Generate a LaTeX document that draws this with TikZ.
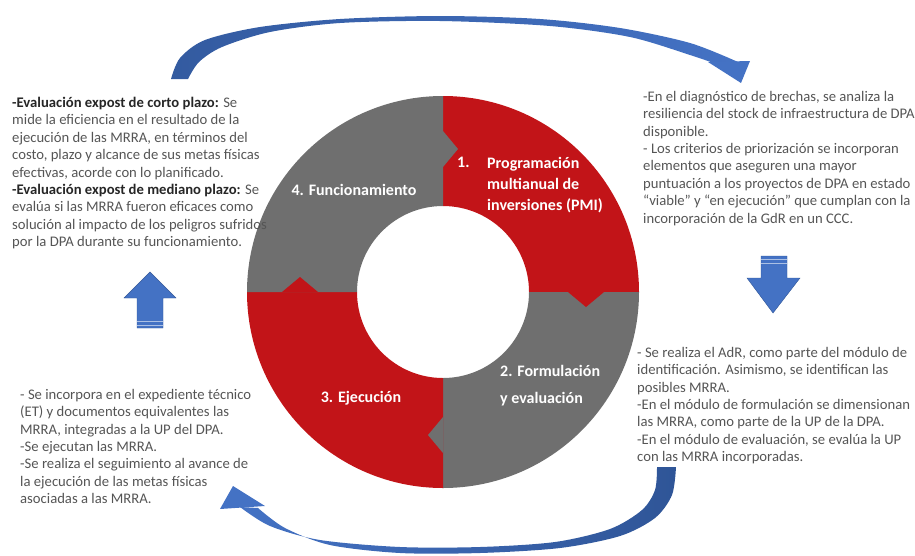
\documentclass[tikz,border=0pt]{standalone}
\usepackage{fontspec}
\setmainfont{Carlito}
\usetikzlibrary{positioning}

\definecolor{ringred}{HTML}{C21418}
\definecolor{ringgray}{HTML}{6F6F6F}
\definecolor{arrowblue}{HTML}{4472C4}
\definecolor{arrowdark}{HTML}{2F5597}
\definecolor{bodytext}{HTML}{555555}
\definecolor{leadtext}{HTML}{262626}
\newcommand{\bodyfont}{\fontsize{14.67}{17.4}\selectfont}
\newcommand{\stagefont}{\fontsize{16}{21}\selectfont\bfseries}
\newcommand{\lead}[1]{\textcolor{leadtext}{\textbf{#1}}}

\begin{document}
\begin{tikzpicture}[x=1pt,y=-1pt,
    textblock/.style={anchor=north west,align=left,inner sep=0pt,text=bodytext,font=\bodyfont},
    stage/.style={text=white,inner sep=0pt,font=\stagefont},
    blockarrow/.style={fill=arrowblue,draw=arrowdark,line width=0.4pt},
    stripe/.style={draw=white!55!arrowblue,line width=0.8pt}]
  \useasboundingbox (0,0) rectangle (915,555);

  % ring of four stages
  \begin{scope}[shift={(443,292)},y=1pt]
    \fill[ringred] (0:86) arc[start angle=0,end angle=90,radius=86]
      -- (90:196) arc[start angle=90,end angle=0,radius=196] -- cycle;
    \fill[ringgray] (-90:86) arc[start angle=-90,end angle=0,radius=86]
      -- (0:196) arc[start angle=0,end angle=-90,radius=196] -- cycle;
    \fill[ringred] (180:86) arc[start angle=180,end angle=270,radius=86]
      -- (270:196) arc[start angle=270,end angle=180,radius=196] -- cycle;
    \fill[ringgray] (90:86) arc[start angle=90,end angle=180,radius=86]
      -- (180:196) arc[start angle=180,end angle=90,radius=196] -- cycle;
    % chevrons
    \fill[ringgray] (0,125) -- (15,143) -- (0,161) -- cycle;
    \fill[ringred] (125,0) -- (143,-15) -- (161,0) -- cycle;
    \fill[ringgray] (0,-125) -- (-15,-143) -- (0,-161) -- cycle;
    \fill[ringred] (-125,0) -- (-143,15) -- (-161,0) -- cycle;
  \end{scope}

  \begin{scope}[every node/.style={stage}]
    \node (fun) at (354,190) {4. Funcionamiento};
    \node (num1) [anchor=north west] at (457,157) {1.};
    \node (pmi) [anchor=north west,align=left] at (487,157)
      {Programación\\multianual de\\inversiones (PMI)};
    \node (form) [anchor=north west,align=left] at (500,365)
      {2. Formulación\\[6pt]y evaluación};
    \node (ejec) at (361,398) {3. Ejecución};
  \end{scope}

  \begin{scope}[every node/.style={textblock}]
    \node (expost) at (12,97) {\lead{-Evaluación expost de corto plazo:} Se\\
      mide la eficiencia en el resultado de la\\
      ejecución de las MRRA, en términos del\\
      costo, plazo y alcance de sus metas físicas\\
      efectivas, acorde con lo planificado.\\
      \lead{-Evaluación expost de mediano plazo:} Se\\
      evalúa si las MRRA fueron eficaces como\\
      solución al impacto de los peligros sufridos\\
      por la DPA durante su funcionamiento.};
    \node (brechas) at (643,91) {-En el diagnóstico de brechas, se analiza la\\
      resiliencia del stock de infraestructura de DPA\\
      disponible.\\
      - Los criterios de priorización se incorporan\\
      elementos que aseguren una mayor\\
      puntuación a los proyectos de DPA en estado\\
      “viable” y “en ejecución” que cumplan con la\\
      incorporación de la GdR en un CCC.};
    \node (adr) at (637,347) {- Se realiza el AdR, como parte del módulo de\\
      identificación. Asimismo, se identifican las\\
      posibles MRRA.\\
      -En el módulo de formulación se dimensionan\\
      las MRRA, como parte de la UP de la DPA.\\
      -En el módulo de evaluación, se evalúa la UP\\
      con las MRRA incorporadas.};
    \node (et) at (20,389) {- Se incorpora en el expediente técnico\\
      (ET) y documentos equivalentes las\\
      MRRA, integradas a la UP del DPA.\\
      -Se ejecutan las MRRA.\\
      -Se realiza el seguimiento al avance de\\
      la ejecución de las metas físicas\\
      asociadas a las MRRA.};
  \end{scope}

  % curved arrows
  \shade[left color=arrowdark!80!arrowblue,right color=arrowblue]
    plot[smooth] coordinates {(171,79) (180,58) (205,40) (260,27) (340,19)
      (440,16) (540,19) (620,28) (690,43) (738,62)}
    -- plot[smooth] coordinates {(722,66) (690,55) (630,37) (550,26) (440,21)
      (340,23) (270,32) (222,47) (199,62) (188,79)} -- cycle;
  \fill[arrowblue] (708,62) -- (750,61) -- (741,83) -- cycle;
  \shade[left color=arrowblue,right color=arrowdark]
    plot[smooth] coordinates {(676,467) (672,495) (655,518) (620,536) (560,548)
      (480,553) (400,553) (330,545) (285,528) (258,508)}
    -- plot[smooth] coordinates {(240,507) (270,526) (320,540) (400,547)
      (480,547) (555,542) (610,529) (642,510) (655,490) (657,467)} -- cycle;
  \fill[arrowblue] (220,509) -- (233,486) -- (265,506) -- cycle;

  % block arrows
  \filldraw[blockarrow] (150,272) -- (176,298) -- (163,298) -- (163,328)
    -- (137,328) -- (137,298) -- (124,298) -- cycle;
  \draw[stripe] (137,321) -- (163,321) (137,325) -- (163,325);
  \filldraw[blockarrow] (761,256) -- (787,256) -- (787,278) -- (800,278)
    -- (773,313) -- (747,278) -- (761,278) -- cycle;
  \draw[stripe] (761,259.5) -- (787,259.5) (761,263) -- (787,263);
\end{tikzpicture}
\end{document}
